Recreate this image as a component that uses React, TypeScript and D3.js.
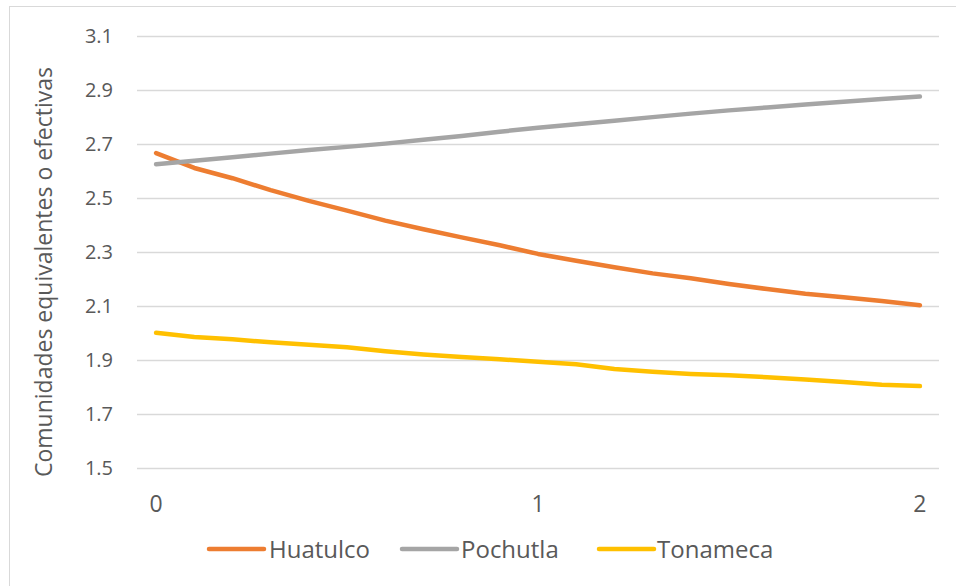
import React from "react";
import * as d3 from "d3";

// Order q of the diversity profile (0 to 2 in steps of 0.1)
const qValues: number[] = [
  0, 0.1, 0.2, 0.3, 0.4, 0.5, 0.6, 0.7, 0.8, 0.9, 1,
  1.1, 1.2, 1.3, 1.4, 1.5, 1.6, 1.7, 1.8, 1.9, 2,
];

const huatulco: number[] = [
  2.665, 2.61, 2.572, 2.528, 2.488, 2.452, 2.415, 2.383, 2.353, 2.324, 2.292,
  2.267, 2.243, 2.22, 2.202, 2.181, 2.162, 2.145, 2.132, 2.118, 2.102,
];
const pochutla: number[] = [
  2.624, 2.637, 2.65, 2.663, 2.676, 2.688, 2.7, 2.714, 2.728, 2.744, 2.759,
  2.772, 2.785, 2.798, 2.811, 2.823, 2.834, 2.845, 2.855, 2.865, 2.874,
];
const tonameca: number[] = [
  2.0, 1.985, 1.976, 1.965, 1.956, 1.947, 1.932, 1.92, 1.911, 1.902, 1.893,
  1.884, 1.866, 1.856, 1.848, 1.843, 1.836, 1.827, 1.818, 1.808, 1.803,
];

const seriesNames: string[] = ["Huatulco", "Pochutla", "Tonameca"];
const seriesColors: string[] = ["#ED7D31", "#A5A5A5", "#FFC000"];
const seriesValues: number[][] = [huatulco, pochutla, tonameca];

const yTicks: number[] = [1.5, 1.7, 1.9, 2.1, 2.3, 2.5, 2.7, 2.9, 3.1];
const xTickLabels: number[] = [0, 1, 2];
const yTitle = "Comunidades equivalentes o efectivas";

const W = 956;
const H = 586;
const FONT = "'Open Sans', sans-serif";
const TEXT = "#595959";

export default function App() {
  const x = d3
    .scalePoint<string>()
    .domain(qValues.map((q) => q.toFixed(1)))
    .range([137, 939])
    .padding(0.5);
  const y = d3.scaleLinear().domain([1.5, 3.1]).range([468, 35.5]);

  const line = d3
    .line<number>()
    .x((_, i) => x(qValues[i].toFixed(1)) as number)
    .y((v) => y(v));

  const legendItems = [
    { swatch: 209, text: 269 },
    { swatch: 402, text: 461 },
    { swatch: 599, text: 657 },
  ];

  return (
    <svg
      width={W}
      height={H}
      style={{ position: "absolute", left: 0, top: 0, background: "#fff" }}
      fontFamily={FONT}
    >
      <rect x={9.5} y={6.5} width={1200} height={1200} fill="#fff" stroke="#D9D9D9" strokeWidth={1} />

      {yTicks.map((t) => (
        <g key={t}>
          <line x1={137} x2={939} y1={Math.round(y(t)) + 0.5} y2={Math.round(y(t)) + 0.5} stroke="#D9D9D9" strokeWidth={1.3} />
          <text x={113} y={y(t)} dy="0.36em" textAnchor="end" fontSize={20} fill={TEXT}>
            {t.toFixed(1)}
          </text>
        </g>
      ))}

      {xTickLabels.map((q) => (
        <text key={q} x={x(q.toFixed(1)) as number} y={504} dy="0.36em" textAnchor="middle" fontSize={23} fill={TEXT}>
          {q}
        </text>
      ))}

      <text
        transform={`translate(52, ${272}) rotate(-90)`}
        textAnchor="middle"
        fontSize={23}
        fill={TEXT}
      >
        {yTitle}
      </text>

      {seriesValues.map((vals, k) => (
        <path
          key={seriesNames[k]}
          d={line(vals) as string}
          fill="none"
          stroke={seriesColors[k]}
          strokeWidth={4.5}
          strokeLinecap="round"
          strokeLinejoin="round"
        />
      ))}

      {seriesNames.map((name, k) => (
        <g key={name}>
          <line
            x1={legendItems[k].swatch}
            x2={legendItems[k].swatch + 55}
            y1={549}
            y2={549}
            stroke={seriesColors[k]}
            strokeWidth={4.5}
            strokeLinecap="round"
          />
          <text x={legendItems[k].text} y={549} dy="0.36em" fontSize={24} fill={TEXT}>
            {name}
          </text>
        </g>
      ))}
    </svg>
  );
}
